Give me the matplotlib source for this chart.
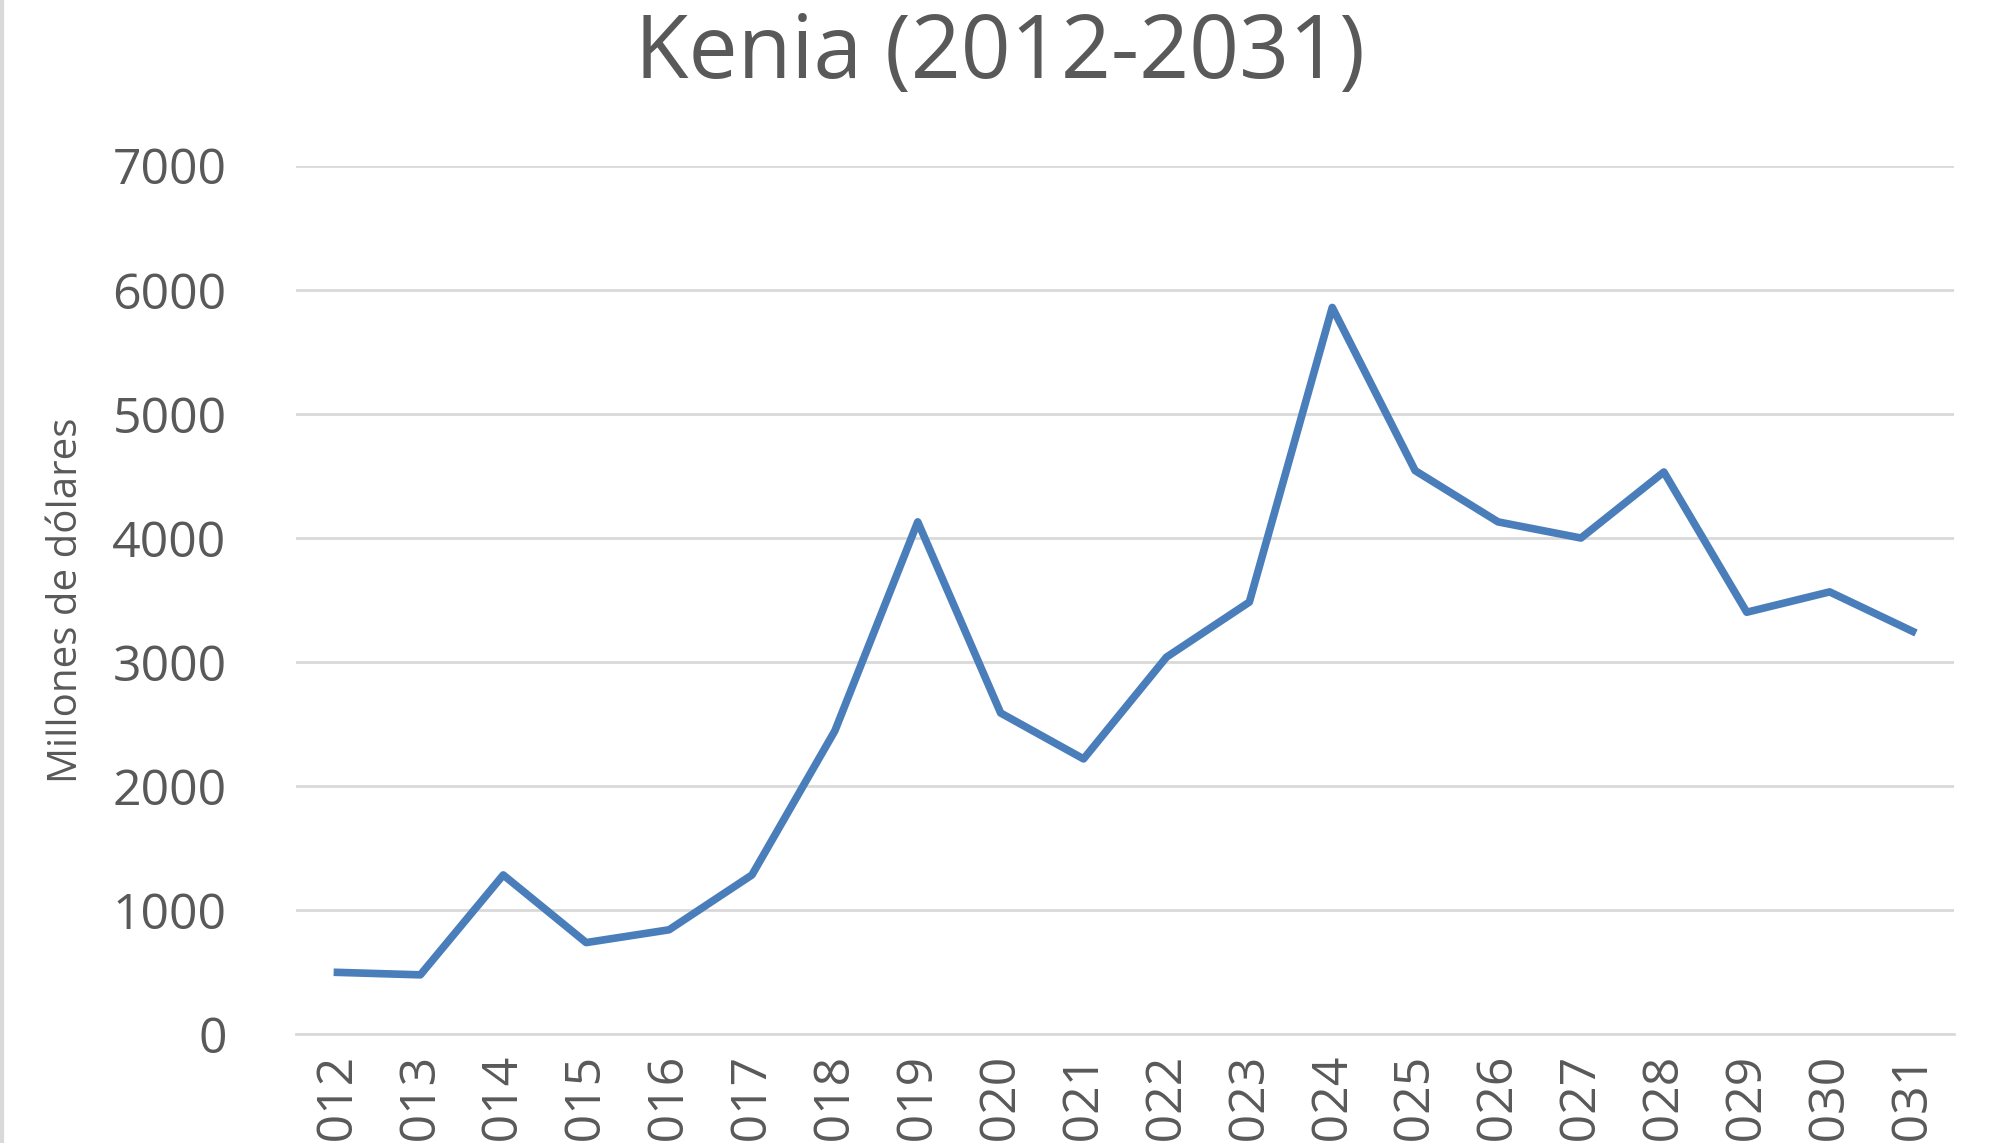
import matplotlib.pyplot as plt

years = [str(y) for y in range(2012, 2032)]
values = [500, 480, 1285, 740, 843, 1285, 2446, 4130, 2590, 2220,
          3040, 3484, 5858, 4543, 4130, 4000, 4532, 3402, 3566, 3248]

plt.rcParams['font.family'] = ['Open Sans', 'DejaVu Sans']
txt = '#595959'

fig = plt.figure(figsize=(20, 11.43), dpi=100)
ax = fig.add_axes([0.148, 0.095, 0.829, 0.76])
ax.plot(range(len(years)), values, color='#4a7ebb', lw=5.5, solid_joinstyle='round')
ax.set_xlim(-0.5, len(years) - 0.5)
ax.set_ylim(0, 7000)
ax.set_yticks(range(0, 7001, 1000))
ax.set_xticks(range(len(years)))
ax.set_xticklabels(years, rotation=90)
ax.grid(axis='y', color='#d9d9d9', lw=2)
ax.set_axisbelow(True)
for s in ['top', 'right', 'left']:
    ax.spines[s].set_visible(False)
ax.spines['bottom'].set_color('#d9d9d9')
ax.spines['bottom'].set_linewidth(2)
ax.tick_params(axis='y', length=0, labelsize=36, colors=txt, pad=50)
ax.tick_params(axis='x', length=0, labelsize=36, colors=txt, pad=14)
ax.set_ylabel('Millones de dólares', fontsize=29, color=txt, labelpad=18)
fig.text(0.5, 0.952, 'Kenia (2012-2031)', ha='center', va='center', fontsize=63, color=txt)
fig.add_artist(plt.Line2D([0.001, 0.001], [0, 1], color='#d9d9d9', lw=3, transform=fig.transFigure))
fig.savefig('out.png', dpi=100)
